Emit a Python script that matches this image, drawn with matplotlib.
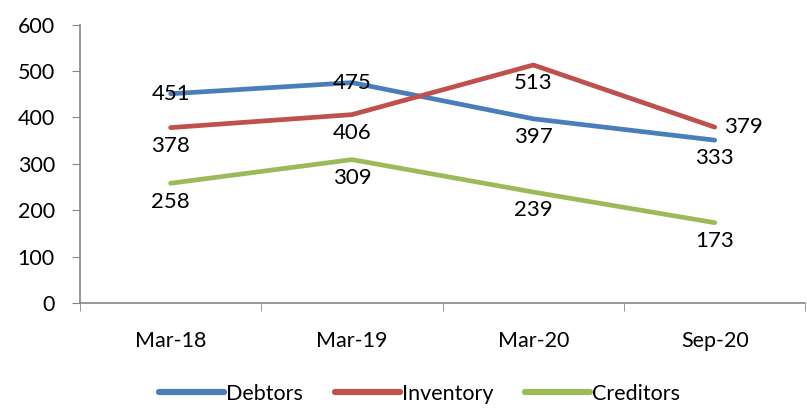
import matplotlib.pyplot as plt

plt.rcParams['font.family'] = ['Lato', 'DejaVu Sans']

periods = ["Mar-18", "Mar-19", "Mar-20", "Sep-20"]
debtors = [451, 475, 397, 351]
debtors_lbl = ["451", "475", "397", "333"]
inventory = [378, 406, 513, 379]
inventory_lbl = ["378", "406", "513", "379"]
creditors = [258, 309, 239, 173]
creditors_lbl = ["258", "309", "239", "173"]

series = [("Debtors", debtors, debtors_lbl, "#4A7EBB", ["c", "c", "b", "b"]),
          ("Inventory", inventory, inventory_lbl, "#C0504D", ["b", "b", "b", "r"]),
          ("Creditors", creditors, creditors_lbl, "#9BBB59", ["b", "b", "b", "b"])]

fig = plt.figure(figsize=(8.07, 4.11), dpi=100)
ax = fig.add_axes([0.099, 0.263, 0.899, 0.677])
x = list(range(len(periods)))

fs = 16
for name, vals, lbls, col, pos in series:
    ax.plot(x, vals, color=col, lw=3.4, solid_capstyle='round', label=name)
    for xi, v, t, p in zip(x, vals, lbls, pos):
        if p == "c":
            ax.annotate(t, (xi, v), ha='center', va='center', fontsize=fs)
        elif p == "b":
            ax.annotate(t, (xi, v), xytext=(0, -6), textcoords='offset points',
                        ha='center', va='top', fontsize=fs)
        else:
            ax.annotate(t, (xi, v), xytext=(7, 0), textcoords='offset points',
                        ha='left', va='center', fontsize=fs)

ax.set_ylim(0, 600)
ax.set_yticks(range(0, 601, 100))
ax.set_xlim(-0.5, 3.5)
ax.set_xticks(x)
ax.set_xticklabels(periods)
ax.set_xticks([-0.5, 0.5, 1.5, 2.5, 3.5], minor=True)
ax.tick_params(axis='x', which='major', length=0, pad=20, labelsize=15.5)
ax.tick_params(axis='x', which='minor', length=6, color='#868686', direction='out')
ax.tick_params(axis='y', length=6, color='#868686', pad=12, labelsize=15.5)
for s in ['top', 'right']:
    ax.spines[s].set_visible(False)
for s in ['left', 'bottom']:
    ax.spines[s].set_color('#868686')
    ax.spines[s].set_linewidth(1.2)

leg = fig.legend(loc='lower center', bbox_to_anchor=(0.52, -0.03), ncol=3, frameon=False,
                 fontsize=15.5, handlelength=3.0, handletextpad=0.1, columnspacing=1.5)
for h in leg.get_lines():
    h.set_linewidth(4.5)
    h.set_solid_capstyle('round')

fig.savefig("out.png", dpi=100)
